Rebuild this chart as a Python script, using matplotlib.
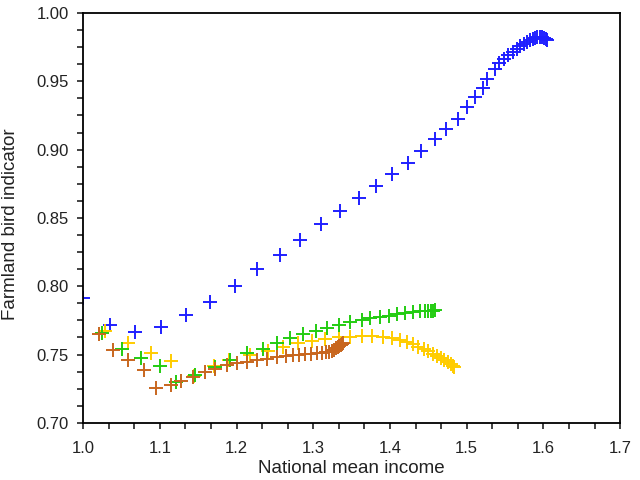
import matplotlib.pyplot as plt
from matplotlib.ticker import MultipleLocator, AutoMinorLocator

plt.rcParams['font.family'] = ['Liberation Sans', 'DejaVu Sans']

# blue trajectory
blue_x = [1.000, 1.035, 1.067, 1.101, 1.134, 1.165, 1.198, 1.227, 1.256, 1.283,
          1.310, 1.335, 1.359, 1.382, 1.403, 1.424, 1.441, 1.459, 1.473, 1.488,
          1.500, 1.511, 1.521, 1.527, 1.537, 1.542, 1.548, 1.554, 1.560, 1.565,
          1.569, 1.574, 1.578, 1.582, 1.586, 1.589, 1.592, 1.595, 1.598, 1.601,
          1.603, 1.605]
blue_y = [0.7915, 0.7717, 0.7668, 0.7705, 0.7788, 0.7888, 0.8005, 0.8125, 0.8231, 0.8339,
          0.8454, 0.8549, 0.8644, 0.8734, 0.8821, 0.8905, 0.8992, 0.9076, 0.9153, 0.9227,
          0.9310, 0.9388, 0.9449, 0.9515, 0.9588, 0.9632, 0.9661, 0.9690, 0.9712, 0.9735,
          0.9755, 0.9775, 0.9790, 0.9803, 0.9813, 0.9820, 0.9825, 0.9826, 0.9822, 0.9815,
          0.9808, 0.9800]

# green trajectory
green_x = [1.024, 1.051, 1.076, 1.100, 1.121, 1.146, 1.172, 1.191, 1.214, 1.235,
           1.252, 1.270, 1.287, 1.304, 1.318, 1.333, 1.348, 1.363, 1.374, 1.387,
           1.398, 1.409, 1.419, 1.430, 1.439, 1.445, 1.450, 1.454, 1.456, 1.458]
green_y = [0.7656, 0.7539, 0.7472, 0.7417, 0.7300, 0.7351, 0.7406, 0.7457, 0.7509, 0.7539,
           0.7588, 0.7618, 0.7651, 0.7670, 0.7691, 0.7713, 0.7735, 0.7754, 0.7766, 0.7773,
           0.7783, 0.7794, 0.7801, 0.7810, 0.7816, 0.7819, 0.7821, 0.7822, 0.7822, 0.7823]

# yellow trajectory
yellow_x = [1.029, 1.059, 1.088, 1.115, 1.144, 1.170, 1.190, 1.217, 1.241, 1.261,
            1.280, 1.298, 1.315, 1.333, 1.348, 1.363, 1.376, 1.391, 1.403, 1.413,
            1.422, 1.430, 1.437, 1.444, 1.450, 1.456, 1.461, 1.466, 1.471, 1.475,
            1.479, 1.482, 1.484]
yellow_y = [0.7675, 0.7583, 0.7514, 0.7456, 0.7344, 0.7413, 0.7457, 0.7498, 0.7529, 0.7558,
            0.7583, 0.7596, 0.7611, 0.7626, 0.7631, 0.7633, 0.7633, 0.7631, 0.7624, 0.7608,
            0.7592, 0.7575, 0.7558, 0.7541, 0.7524, 0.7506, 0.7490, 0.7474, 0.7458, 0.7444,
            0.7430, 0.7418, 0.7408]

# brown trajectory
brown_x = [1.021, 1.039, 1.059, 1.079, 1.095, 1.114, 1.127, 1.143, 1.159, 1.172,
           1.187, 1.200, 1.213, 1.226, 1.239, 1.252, 1.265, 1.273, 1.281, 1.289,
           1.297, 1.305, 1.311, 1.316, 1.320, 1.324, 1.327, 1.330, 1.332, 1.334,
           1.336, 1.338, 1.339]
brown_y = [0.7653, 0.7534, 0.7461, 0.7384, 0.7252, 0.7274, 0.7304, 0.7339, 0.7373, 0.7393,
           0.7424, 0.7437, 0.7446, 0.7461, 0.7470, 0.7481, 0.7490, 0.7498, 0.7500, 0.7503,
           0.7505, 0.7509, 0.7512, 0.7516, 0.7521, 0.7528, 0.7536, 0.7545, 0.7555, 0.7563,
           0.7571, 0.7578, 0.7584]

fig = plt.figure(figsize=(6.4, 4.8), dpi=100)
ax = fig.add_axes([0.130, 0.119, 0.839, 0.854])

ms, mw = 10, 1.4
ax.plot(blue_x, blue_y, '+', color='#1f1fff', ms=ms, mew=mw)
ax.plot(yellow_x, yellow_y, '+', color='#ffcc00', ms=ms, mew=mw)
ax.plot(green_x, green_y, '+', color='#22cc11', ms=ms, mew=mw)
ax.plot(brown_x, brown_y, '+', color='#c8661e', ms=ms, mew=mw)

ax.set_xlim(1.0, 1.7)
ax.set_ylim(0.70, 1.00)
ax.xaxis.set_major_locator(MultipleLocator(0.1))
ax.yaxis.set_major_locator(MultipleLocator(0.05))
ax.xaxis.set_minor_locator(AutoMinorLocator(3))
ax.yaxis.set_minor_locator(AutoMinorLocator(4))
ax.xaxis.set_major_formatter(plt.FormatStrFormatter('%.1f'))
ax.yaxis.set_major_formatter(plt.FormatStrFormatter('%.2f'))
ax.tick_params(which='both', direction='out', length=4, width=1.2, labelsize=12,
               colors='#222222')
ax.tick_params(axis='y', pad=6.5)
ax.tick_params(axis='x', pad=9)
for s in ax.spines.values():
    s.set_linewidth(1.3)

ax.set_xlabel('National mean income', fontsize=13.5, color='#222222', labelpad=3)
ax.set_ylabel('Farmland bird indicator', fontsize=13.5, color='#222222')
ax.yaxis.set_label_coords(-0.12, 0.485)

fig.savefig('out.png', dpi=100)
